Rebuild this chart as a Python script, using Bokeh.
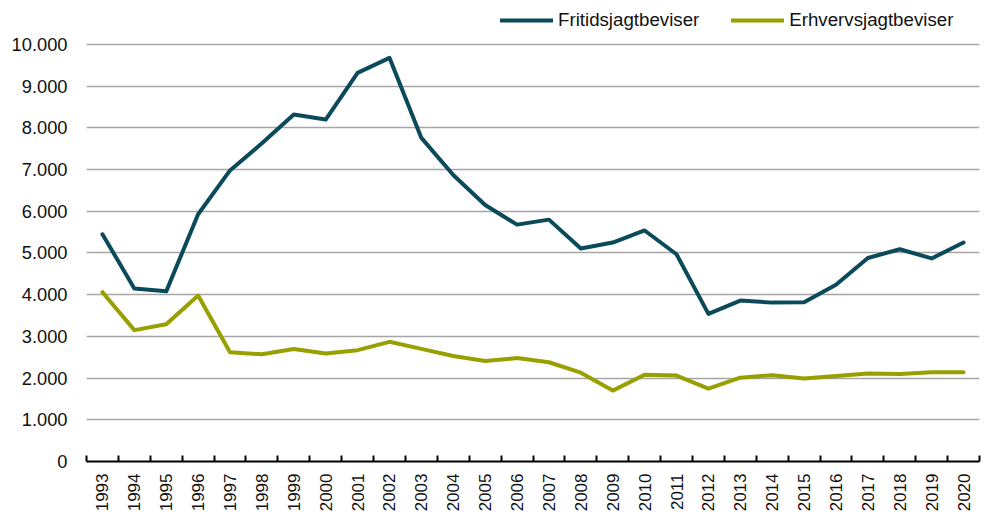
import math
from bokeh.plotting import figure
from bokeh.models import Range1d, FixedTicker, Legend, LegendItem, ColumnDataSource
from bokeh.embed import file_html
from bokeh.resources import INLINE

years = [str(y) for y in range(1993, 2021)]
fritid = [5450, 4150, 4080, 5930, 6980, 7630, 8320, 8200, 9320, 9680,
          7760, 6870, 6150, 5680, 5800, 5110, 5250, 5540, 4970, 3540,
          3860, 3810, 3820, 4240, 4880, 5090, 4870, 5250]
erhverv = [4060, 3150, 3290, 3980, 2620, 2570, 2700, 2590, 2670, 2870,
           2700, 2530, 2410, 2480, 2380, 2130, 1700, 2080, 2060, 1750,
           2010, 2070, 1990, 2050, 2110, 2100, 2140, 2140]
y_ticks = [0, 1000, 2000, 3000, 4000, 5000, 6000, 7000, 8000, 9000, 10000]
y_tick_labels = ["0", "1.000", "2.000", "3.000", "4.000", "5.000",
                 "6.000", "7.000", "8.000", "9.000", "10.000"]
series_names = ["Fritidsjagtbeviser", "Erhvervsjagtbeviser"]
colors = ["#0b4a5b", "#98a000"]

n = len(years)
xpos = [i + 0.5 for i in range(n)]
src = ColumnDataSource(dict(x=xpos, fritid=fritid, erhverv=erhverv))

FONT = "Liberation Sans"

p = figure(width=987, height=515, output_backend="svg", toolbar_location=None,
           x_range=Range1d(0, n), y_range=Range1d(0, 11055),
           min_border_left=86, min_border_right=8, min_border_top=0,
           min_border_bottom=54)
p.outline_line_color = None
p.background_fill_color = "white"

r1 = p.line("x", "fritid", source=src, line_color=colors[0], line_width=4,
            line_join="round", line_cap="round")
r2 = p.line("x", "erhverv", source=src, line_color=colors[1], line_width=4,
            line_join="round", line_cap="round")

# y axis
p.yaxis.ticker = FixedTicker(ticks=y_ticks)
p.yaxis.major_label_overrides = {t: l for t, l in zip(y_ticks, y_tick_labels)}
p.yaxis.axis_line_color = None
p.yaxis.major_tick_line_color = None
p.yaxis.minor_tick_line_color = None
p.yaxis.major_label_standoff = 13
p.yaxis.major_label_text_font = FONT
p.yaxis.major_label_text_font_size = "18.3px"
p.yaxis.major_label_text_color = "#111111"

# x axis
p.xaxis.ticker = FixedTicker(ticks=xpos, minor_ticks=list(range(n + 1)))
p.xaxis.major_label_overrides = {x: y for x, y in zip(xpos, years)}
p.xaxis.major_tick_line_color = None
p.xaxis.major_tick_out = 0
p.xaxis.major_tick_in = 0
p.xaxis.minor_tick_in = 6
p.xaxis.minor_tick_out = 0
p.xaxis.minor_tick_line_color = "black"
p.xaxis.minor_tick_line_width = 2
p.xaxis.axis_line_color = "black"
p.xaxis.axis_line_width = 2
p.xaxis.major_label_orientation = math.pi / 2
p.xaxis.major_label_standoff = 12
p.xaxis.major_label_text_font = FONT
p.xaxis.major_label_text_font_size = "17px"
p.xaxis.major_label_text_color = "#111111"

p.xgrid.grid_line_color = None
p.ygrid.ticker = FixedTicker(ticks=y_ticks[1:])
p.ygrid.grid_line_color = "#a6a6a6"
p.ygrid.grid_line_width = 1.5

legend = Legend(items=[LegendItem(label=series_names[0], renderers=[r1]),
                       LegendItem(label=series_names[1], renderers=[r2])],
                orientation="horizontal", location=(414, 430),
                glyph_width=53, glyph_height=20, label_height=20,
                label_standoff=5, spacing=32, padding=0,
                margin=0, border_line_color=None, background_fill_alpha=0,
                label_text_font=FONT, label_text_font_size="18.7px",
                label_text_color="#111111")
p.add_layout(legend, "center")

open("out.html", "w").write(file_html(p, INLINE))
